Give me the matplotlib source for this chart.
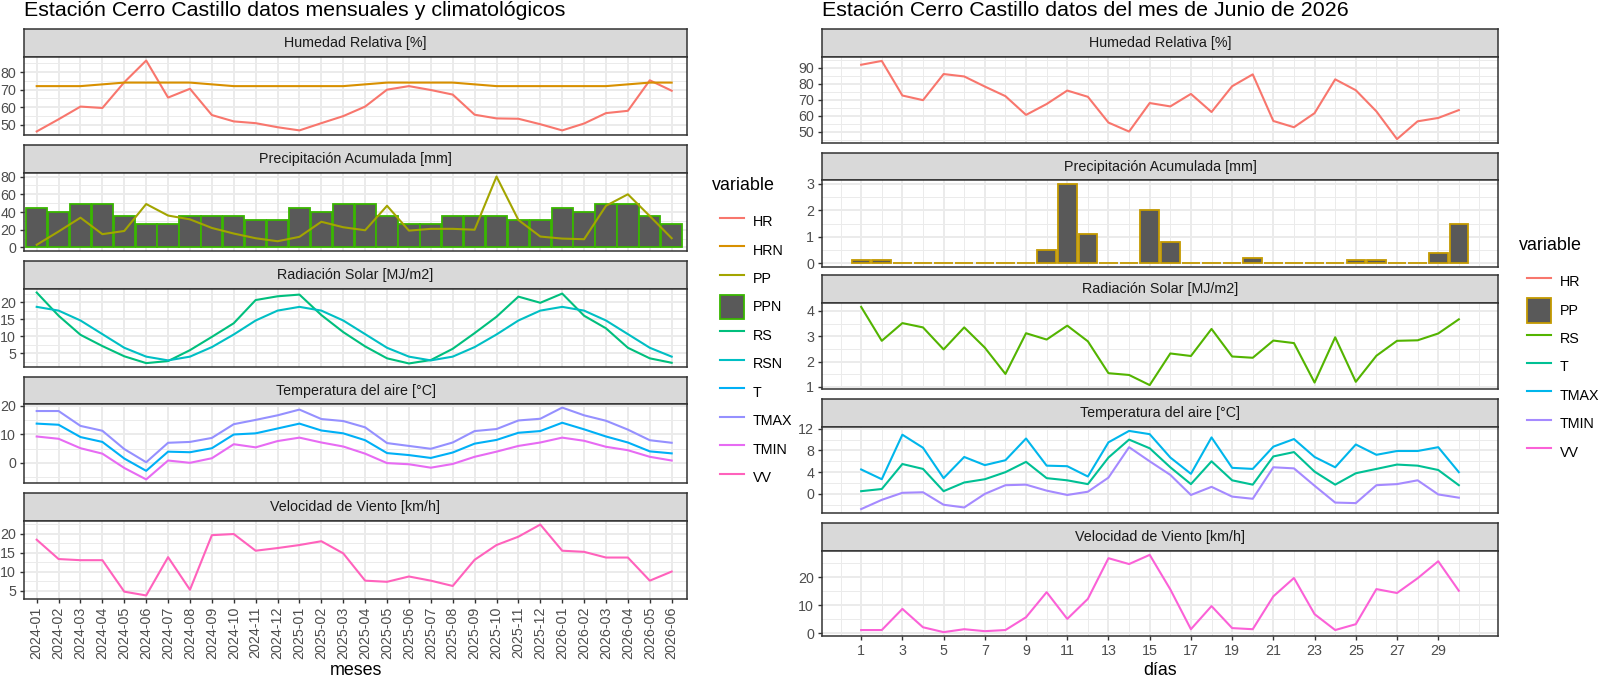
import matplotlib
matplotlib.use("Agg")
import matplotlib.pyplot as plt
from matplotlib.lines import Line2D
from matplotlib.patches import Patch

plt.rcParams['font.family'] = ['Liberation Sans', 'DejaVu Sans']

# datos mensuales (2024-01 .. 2026-06)
meses = ['2024-01', '2024-02', '2024-03', '2024-04', '2024-05', '2024-06',
         '2024-07', '2024-08', '2024-09', '2024-10', '2024-11', '2024-12',
         '2025-01', '2025-02', '2025-03', '2025-04', '2025-05', '2025-06',
         '2025-07', '2025-08', '2025-09', '2025-10', '2025-11', '2025-12',
         '2026-01', '2026-02', '2026-03', '2026-04', '2026-05', '2026-06']
HR_m = [46.3, 53.2, 60.4, 59.6, 74.2, 86.5, 65.5, 70.5, 55.6, 52.0, 51.0, 48.7,
        46.9, 51.0, 55.0, 60.4, 70.0, 72.0, 69.8, 67.2, 55.8, 53.7, 53.5, 50.4,
        46.9, 50.8, 56.7, 58.0, 75.3, 69.4]
HRN_m = [72, 72, 72, 73, 74, 74, 74, 74, 73, 72, 72, 72,
         72, 72, 72, 73, 74, 74, 74, 74, 73, 72, 72, 72,
         72, 72, 72, 73, 74, 74]
PP_m = [3.0, 18.0, 33.6, 15.0, 18.6, 49.0, 36.0, 31.7, 22.0, 15.7, 10.4, 7.0,
        12.0, 29.0, 22.8, 19.4, 47.0, 19.0, 21.0, 21.0, 20.0, 80.0, 31.0, 12.3,
        10.0, 9.3, 47.0, 60.0, 35.4, 10.4]
PPN_m = [45, 40, 49, 49, 36, 27, 27, 36, 36, 36, 31, 31,
         45, 40, 49, 49, 36, 27, 27, 36, 36, 36, 31, 31,
         45, 40, 49, 49, 36, 27]
RS_m = [22.8, 16.0, 10.4, 7.1, 4.1, 2.1, 2.7, 5.9, 9.8, 13.8, 20.6, 21.7,
        22.2, 16.2, 11.2, 7.0, 3.5, 2.0, 3.0, 6.3, 10.9, 15.7, 21.6, 19.8,
        22.5, 16.0, 12.3, 6.6, 3.5, 2.2]
RSN_m = [18.6, 17.5, 14.6, 10.6, 6.6, 4.0, 2.9, 4.0, 6.8, 10.5, 14.6, 17.5,
         18.6, 17.5, 14.6, 10.6, 6.6, 4.0, 2.9, 4.0, 6.8, 10.5, 14.6, 17.5,
         18.6, 17.5, 14.6, 10.6, 6.6, 4.0]
T_m = [13.7, 13.3, 9.0, 7.3, 1.5, -2.8, 3.9, 3.7, 5.1, 9.9, 10.3, 12.0,
       13.7, 11.3, 10.3, 7.9, 3.4, 2.7, 1.7, 3.6, 6.7, 8.0, 10.5, 11.1,
       14.0, 11.7, 9.2, 7.1, 4.0, 3.3]
TMAX_m = [18.1, 18.1, 12.9, 11.2, 4.8, 0.2, 7.0, 7.3, 8.7, 13.5, 15.0, 16.6,
          18.6, 15.3, 14.6, 12.4, 6.9, 5.9, 4.9, 7.1, 11.1, 11.8, 14.8, 15.4,
          19.3, 16.6, 14.7, 11.6, 7.9, 7.0]
TMIN_m = [9.2, 8.4, 5.1, 3.2, -1.8, -5.8, 0.8, 0.0, 1.6, 6.5, 5.4, 7.6,
          8.8, 7.1, 5.7, 3.2, -0.1, -0.5, -1.7, -0.4, 2.1, 3.9, 5.9, 7.1,
          8.8, 7.7, 5.6, 4.4, 2.1, 0.8]
VV_m = [18.4, 13.3, 13.0, 13.0, 4.7, 3.7, 13.8, 5.2, 19.6, 19.9, 15.5, 16.2,
        17.0, 18.0, 14.8, 7.6, 7.3, 8.7, 7.6, 6.2, 13.1, 17.0, 19.2, 22.4,
        15.5, 15.2, 13.7, 13.7, 7.6, 10.0]

# datos diarios junio 2026
dias = list(range(1, 31))
HR_d = [91.9, 94.3, 72.7, 69.8, 86.1, 84.6, 78.3, 72.3, 60.6, 67.4, 75.8, 71.9,
        55.8, 50.2, 68.0, 65.9, 73.7, 62.4, 78.5, 85.9, 56.8, 52.9, 61.7, 82.8,
        76.0, 62.8, 45.5, 56.6, 58.7, 63.6]
PP_d = [0.1, 0.1, 0, 0, 0, 0, 0, 0, 0, 0.5, 3.0, 1.1, 0, 0, 2.0, 0.8, 0, 0, 0,
        0.2, 0, 0, 0, 0, 0.1, 0.1, 0, 0, 0.4, 1.5]
RS_d = [4.16, 2.82, 3.52, 3.35, 2.48, 3.35, 2.55, 1.51, 3.12, 2.87, 3.42, 2.80,
        1.54, 1.47, 1.07, 2.32, 2.22, 3.29, 2.20, 2.15, 2.83, 2.73, 1.17, 2.96,
        1.20, 2.23, 2.82, 2.84, 3.11, 3.67]
TMAX_d = [4.5, 2.7, 10.9, 8.5, 2.9, 6.8, 5.3, 6.2, 10.2, 5.2, 5.1, 3.2,
          9.5, 11.6, 11.0, 6.7, 3.7, 10.4, 4.8, 4.6, 8.7, 10.1, 6.8, 4.9,
          9.1, 7.2, 7.9, 7.9, 8.6, 4.0]
T_d = [0.5, 0.9, 5.5, 4.6, 0.5, 2.1, 2.7, 4.0, 5.9, 2.9, 2.5, 1.8,
       6.7, 10.0, 8.4, 4.9, 1.8, 6.0, 2.5, 1.7, 6.9, 7.7, 4.1, 1.7,
       3.8, 4.6, 5.4, 5.2, 4.4, 1.6]
TMIN_d = [-2.8, -1.1, 0.2, 0.3, -2.0, -2.5, 0.0, 1.6, 1.7, 0.6, -0.2, 0.4,
          3.0, 8.6, 6.0, 3.5, -0.2, 1.3, -0.5, -0.9, 4.9, 4.7, 1.5, -1.6,
          -1.7, 1.6, 1.8, 2.5, -0.1, -0.7]
VV_d = [1.1, 1.1, 8.7, 2.1, 0.35, 1.4, 0.7, 1.1, 5.7, 14.7, 5.1, 12.3,
        26.9, 24.8, 28.1, 15.7, 1.4, 9.7, 1.8, 1.4, 13.2, 19.8, 6.8, 1.1,
        3.2, 15.8, 14.4, 19.7, 25.8, 15.2]

titulos = ['Humedad Relativa [%]', 'Precipitación Acumulada [mm]',
           'Radiación Solar [MJ/m2]', 'Temperatura del aire [°C]',
           'Velocidad de Viento [km/h]']

# colores ggplot (hue) para 10 y 7 niveles
col10 = {'HR': '#F8766D', 'HRN': '#D89000', 'PP': '#A3A500', 'PPN': '#39B600',
         'RS': '#00BF7D', 'RSN': '#00BFC4', 'T': '#00B0F6', 'TMAX': '#9590FF',
         'TMIN': '#E76BF3', 'VV': '#FF62BC'}
col7 = {'HR': '#F8766D', 'PP': '#C49A00', 'RS': '#53B400', 'T': '#00C094',
        'TMAX': '#00B6EB', 'TMIN': '#A58AFF', 'VV': '#FB61D7'}

W, H = 1600, 676
fig = plt.figure(figsize=(16, 6.76), dpi=100)
LW = 1.5
BAR_FILL = '#595959'
FS = 10.3      # texto de ejes / strips / leyenda
FS_T = 12.9    # titulos de ejes y leyenda
FS_TIT = 15.4  # titulo


def box(x0, y0, x1, y1):
    return [x0 / W, 1 - y1 / H, (x1 - x0) / W, (y1 - y0) / H]


def panel(x0, x1, rows, titulo, yticks, xticks, xminor, xlim, bottom=False):
    st_top, top, bot = rows
    st = fig.add_axes(box(x0, st_top, x1, top))
    st.set_facecolor('#D9D9D9')
    st.set_xticks([])
    st.set_yticks([])
    for s in st.spines.values():
        s.set_color('#333333')
        s.set_linewidth(1.1)
    st.text(0.5, 0.5, titulo, ha='center', va='center', fontsize=FS,
            color='#1A1A1A', transform=st.transAxes)

    ax = fig.add_axes(box(x0, top, x1, bot))
    ax.use_sticky_edges = False
    ax.set_axisbelow(True)
    for s in ax.spines.values():
        s.set_color('#333333')
        s.set_linewidth(1.1)
    step = yticks[1] - yticks[0]
    ax.set_yticks(yticks)
    ax.set_yticks([t - step / 2 for t in yticks] + [yticks[-1] + step / 2], minor=True)
    ax.set_xticks(xticks)
    ax.set_xticks(xminor, minor=True)
    ax.set_xlim(*xlim)
    ax.grid(which='major', color='#EBEBEB', lw=1.4)
    ax.grid(which='minor', color='#EBEBEB', lw=0.7)
    ax.tick_params(which='minor', length=0)
    ax.tick_params(axis='y', length=3.2, width=1.0, color='#333333',
                   labelsize=FS, labelcolor='#4D4D4D', pad=2.5)
    if bottom:
        ax.tick_params(axis='x', length=3.2, width=1.0, color='#333333',
                       labelsize=FS, labelcolor='#4D4D4D', pad=2.5)
    else:
        ax.tick_params(axis='x', length=0, labelbottom=False)
    return ax


# ---------------- panel izquierdo: mensual ----------------
xm = list(range(len(meses)))
L0, L1 = 24, 687
rows_l = [(29, 57, 135), (145, 173, 251), (261, 289, 367), (377, 404, 483), (493, 521, 599)]
xlim_l = (-0.58, 29.7)
yt_l = [[50, 60, 70, 80], [0, 20, 40, 60, 80], [5, 10, 15, 20], [0, 10, 20], [5, 10, 15, 20]]

axs_l = [panel(L0, L1, rows_l[i], titulos[i], yt_l[i], xm, [], xlim_l, bottom=(i == 4))
         for i in range(5)]

axs_l[0].plot(xm, HR_m, color=col10['HR'], lw=LW)
axs_l[0].plot(xm, HRN_m, color=col10['HRN'], lw=LW)
axs_l[1].bar(xm, PPN_m, width=0.97, color=BAR_FILL, edgecolor=col10['PPN'], lw=1.3)
axs_l[1].plot(xm, PP_m, color=col10['PP'], lw=LW)
axs_l[2].plot(xm, RS_m, color=col10['RS'], lw=LW)
axs_l[2].plot(xm, RSN_m, color=col10['RSN'], lw=LW)
axs_l[3].plot(xm, T_m, color=col10['T'], lw=LW)
axs_l[3].plot(xm, TMAX_m, color=col10['TMAX'], lw=LW)
axs_l[3].plot(xm, TMIN_m, color=col10['TMIN'], lw=LW)
axs_l[4].plot(xm, VV_m, color=col10['VV'], lw=LW)
axs_l[4].set_xticklabels(meses, rotation=90)

fig.text(24 / W, 1 - 1 / H, 'Estación Cerro Castillo datos mensuales y climatológicos',
         ha='left', va='top', fontsize=FS_TIT)
fig.text((L0 + L1) / 2 / W, 1 - 675 / H, 'meses', ha='center', va='baseline', fontsize=FS_T)

# ---------------- panel derecho: diario ----------------
R0, R1 = 822, 1498
rows_r = [(29, 57, 143), (153, 180, 267), (275, 303, 389), (399, 427, 513), (523, 551, 636)]
xlim_r = (-0.9, 31.9)
yt_r = [[50, 60, 70, 80, 90], [0, 1, 2, 3], [1, 2, 3, 4], [0, 4, 8, 12], [0, 10, 20]]
xt_r = list(range(1, 31, 2))
xmin_r = list(range(0, 32, 2)) + [31]

axs_r = [panel(R0, R1, rows_r[i], titulos[i], yt_r[i], xt_r, xmin_r, xlim_r, bottom=(i == 4))
         for i in range(5)]

axs_r[0].plot(dias, HR_d, color=col7['HR'], lw=LW)
axs_r[1].bar(dias, PP_d, width=0.9, color=BAR_FILL, edgecolor=col7['PP'], lw=1.3)
axs_r[2].plot(dias, RS_d, color=col7['RS'], lw=LW)
axs_r[3].plot(dias, T_d, color=col7['T'], lw=LW)
axs_r[3].plot(dias, TMAX_d, color=col7['TMAX'], lw=LW)
axs_r[3].plot(dias, TMIN_d, color=col7['TMIN'], lw=LW)
axs_r[4].plot(dias, VV_d, color=col7['VV'], lw=LW)

fig.text(R0 / W, 1 - 1 / H, 'Estación Cerro Castillo datos del mes de Junio de 2026',
         ha='left', va='top', fontsize=FS_TIT)
fig.text((R0 + R1) / 2 / W, 1 - 675 / H, 'días', ha='center', va='baseline', fontsize=FS_T)


# ---------------- leyendas ----------------
def handles(cols, bar_key):
    hs = []
    for k, c in cols.items():
        if k == bar_key:
            hs.append(Patch(facecolor=BAR_FILL, edgecolor=c, lw=1.3))
        else:
            hs.append(Line2D([], [], color=c, lw=LW))
    return hs


leg_kw = dict(frameon=False, fontsize=FS, handlelength=1.7, handleheight=2.3,
              labelspacing=0.25, handletextpad=0.6, borderpad=0, loc='upper left')
fig.text(712 / W, 1 - 185 / H, 'variable', ha='left', va='center', fontsize=FS_T)
fig.legend(handles(col10, 'PPN'), list(col10.keys()),
           bbox_to_anchor=(713 / W, 1 - 202 / H), **leg_kw)
fig.text(1519 / W, 1 - 245 / H, 'variable', ha='left', va='center', fontsize=FS_T)
fig.legend(handles(col7, 'PP'), list(col7.keys()),
           bbox_to_anchor=(1520 / W, 1 - 262 / H), **leg_kw)

fig.savefig('out.png', dpi=100)
